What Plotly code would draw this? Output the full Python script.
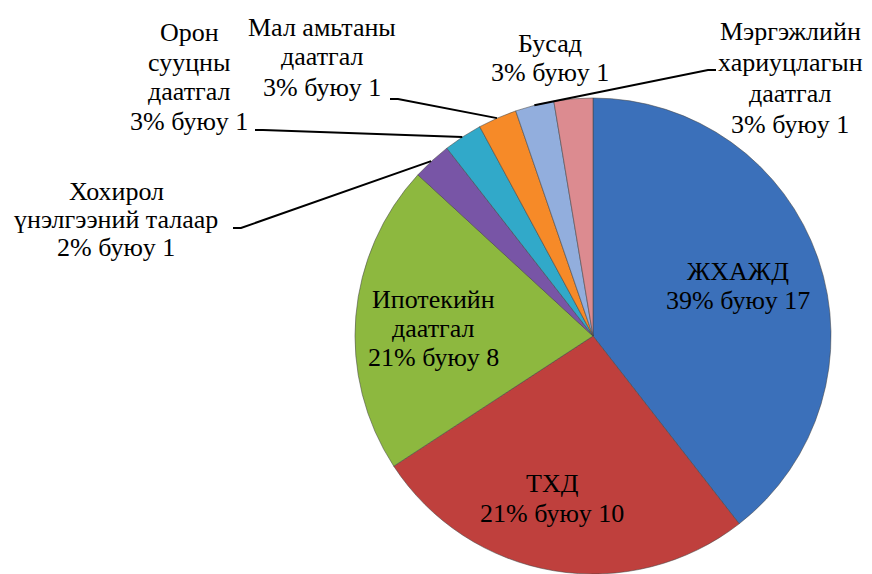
import math
import plotly.graph_objects as go

# ---- data ----
categories = ["ЖХАЖД", "ТХД", "Ипотекийн даатгал", "Хохирол үнэлгээний талаар",
              "Орон сууцны даатгал", "Мал амьтаны даатгал",
              "Мэргэжлийн хариуцлагын даатгал", "Бусад"]
values = [15, 10, 8, 1, 1, 1, 1, 1]
label_lines = [
    ["ЖХАЖД", "39% буюу 17"],
    ["ТХД", "21% буюу 10"],
    ["Ипотекийн", "даатгал", "21% буюу 8"],
    ["Хохирол", "үнэлгээний талаар", "2% буюу 1"],
    ["Орон", "сууцны", "даатгал", "3% буюу 1"],
    ["Мал амьтаны", "даатгал", "3% буюу 1"],
    ["Мэргэжлийн", "хариуцлагын", "даатгал", "3% буюу 1"],
    ["Бусад", "3% буюу 1"],
]
colors = ["#3B70BA", "#BF403D", "#8DB83F", "#7855A6", "#31A9C9",
          "#F68A28", "#92AEDD", "#DC8B90"]

# ---- layout constants (screen pixels; page has an 8px body margin) ----
OFF = 8
W, H = 864, 566
CX, CY, R = 593, 337, 239
FONT = "Liberation Serif"
FS = 26

# label placement (first line centre, line spacing), screen pixels
label_pos = [(738, 271, 29), (552, 483, 30), (433, 299, 29), (116, 191, 28),
             (189, 33, 29.5), (322, 27, 30), (790, 32, 30.7), (550, 43, 29)]
# leader line start (label side) and elbow, for slices with leaders
leaders = {3: [(233, 228), (241, 228)],
           4: [(255, 130), (263, 130)],
           5: [(390, 99), (398, 99)],
           6: [(716, 70), (708, 70)]}

def px(x):
    return (x - OFF) / W

def py(y):
    return 1 - (y - OFF) / H

fig = go.Figure(go.Pie(
    labels=categories, values=values, sort=False, direction="clockwise",
    rotation=0, textinfo="none", hoverinfo="label+value",
    marker=dict(colors=colors, line=dict(color="rgba(70,70,70,0.55)", width=1)),
    domain=dict(x=[px(CX - R), px(CX + R)], y=[max(0, py(CY + R)), py(CY - R)]),
    showlegend=False,
))

annotations = []
for (x0, y0, ls), lines in zip(label_pos, label_lines):
    for i, t in enumerate(lines):
        annotations.append(dict(
            x=px(x0), y=py(y0 + i * ls), xref="paper", yref="paper",
            text=t, showarrow=False, xanchor="center", yanchor="middle",
            font=dict(family=FONT, size=FS, color="black")))

# leader lines to slice mid-angles computed from the data
total = sum(values)
shapes = []
cum = 0
for i, v in enumerate(values):
    mid = (cum + v / 2) / total * 2 * math.pi
    cum += v
    if i in leaders:
        ex = CX + R * math.sin(mid)
        ey = CY - R * math.cos(mid)
        pts = leaders[i] + [(ex, ey)]
        path = "M " + " L ".join(f"{px(a):.5f},{py(b):.5f}" for a, b in pts)
        shapes.append(dict(type="path", path=path, xref="paper", yref="paper",
                           line=dict(color="black", width=2)))

fig.update_layout(
    width=W, height=H, margin=dict(l=0, r=0, t=0, b=0),
    paper_bgcolor="white", plot_bgcolor="white",
    font=dict(family=FONT),
    annotations=annotations, shapes=shapes,
)
fig.write_html("out.html",
               post_script="document.documentElement.style.overflow='hidden';"
                           "document.body.style.overflow='hidden';")
